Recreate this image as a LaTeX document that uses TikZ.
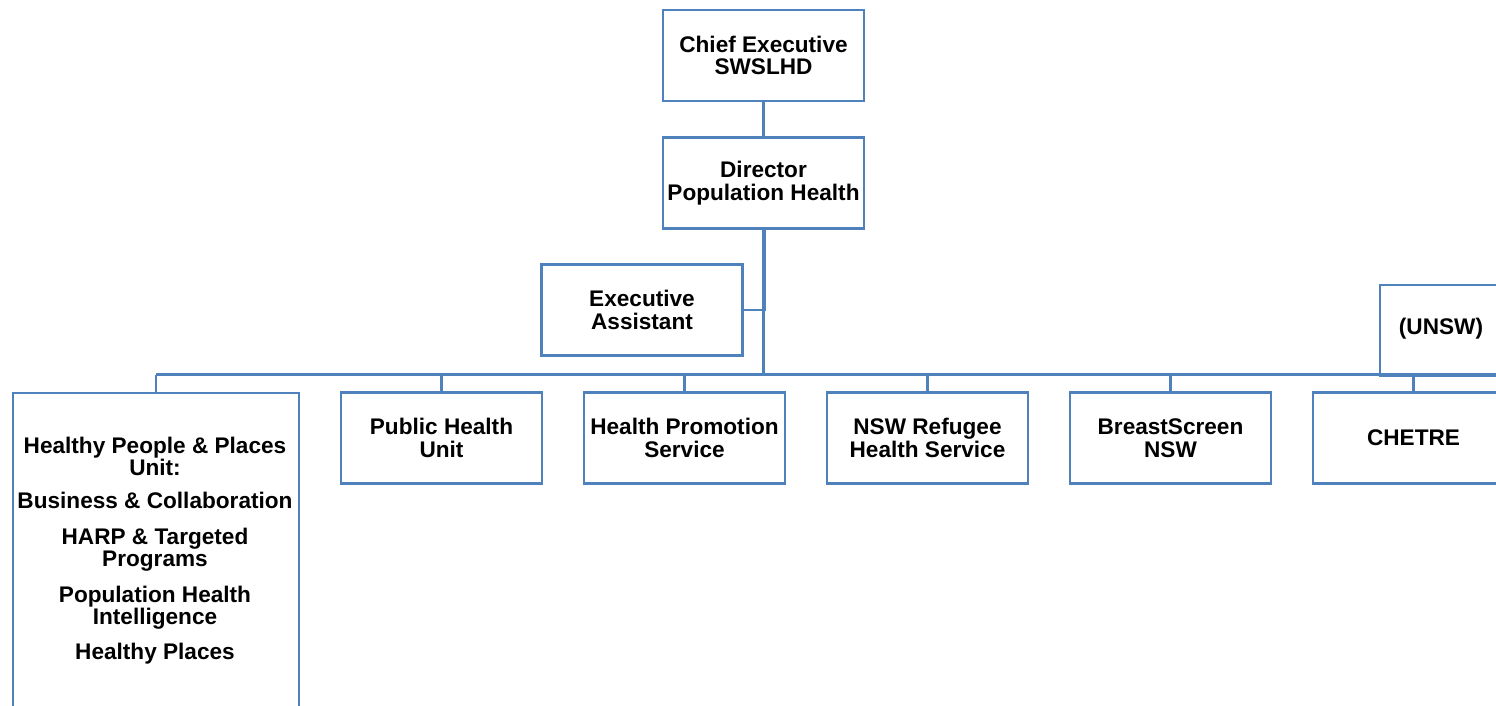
\documentclass[tikz,border=0pt]{standalone}
\usepackage{fontspec}
\setmainfont{Liberation Sans}
\definecolor{linec}{RGB}{79,129,189}
\tikzset{
  orgbox/.style={draw=linec, line width=2.2pt, fill=white, inner sep=0pt, align=center,
    font=\bfseries\fontsize{22.6}{22.5}\selectfont, minimum width=201pt, minimum height=91pt},
  conn/.style={draw=linec, line width=2.2pt},
  lbl/.style={inner sep=0pt, align=center, font=\bfseries\fontsize{22.6}{22}\selectfont}
}
\begin{document}
\begin{tikzpicture}[x=1pt,y=-1pt]
\clip (0,0) rectangle (1496,705);
\fill[white] (0,0) rectangle (1496,705);
% top chain
\node[orgbox] (chief) at (763.5,55.5) {Chief Executive\\SWSLHD};
\node[orgbox] (dir) at (763.5,183) {Director\\Population Health};
\node[orgbox] (ea) at (642,310) {Executive\\Assistant};
% UNSW box (clipped at right)
\node[orgbox, minimum width=240pt, minimum height=91pt, anchor=north west] (unsw) at (1379,283.5) {};
\node[lbl] (unswt) at (1441,329) {(UNSW)};
% children
\node[orgbox, minimum width=286pt, minimum height=340pt, anchor=north west] (hpp) at (12,392) {};
\node[lbl] (hppt) at (155,550.5) {Healthy People \& Places\\Unit:\\[11.5pt]Business \& Collaboration\\[14pt]HARP \& Targeted\\Programs\\[14pt]Population Health\\Intelligence\\[13pt]Healthy Places};
\node[orgbox] (phu) at (441.5,438) {Public Health\\Unit};
\node[orgbox] (hps) at (684.5,438) {Health Promotion\\Service};
\node[orgbox] (ref) at (927.5,438) {NSW Refugee\\Health Service};
\node[orgbox] (bs) at (1170.5,438) {BreastScreen\\NSW};
\node[orgbox] (chetre) at (1413.5,438) {CHETRE};
% connectors
\coordinate (bus) at (763.5,374.5);
\coordinate (busR) at (1520,374.5);
\draw[conn] (chief.south) -- (dir.south |- dir.north);
\draw[conn] (dir.south) -- (bus);
\draw[conn] ([xshift=1.8pt]dir.south) |- (ea.east);
\draw[conn] (hpp.north |- bus) -- (busR);
\foreach \n in {hpp,phu,hps,ref,bs,chetre}{
  \draw[conn] (\n.north |- bus) -- (\n.north);
}
\end{tikzpicture}
\end{document}
